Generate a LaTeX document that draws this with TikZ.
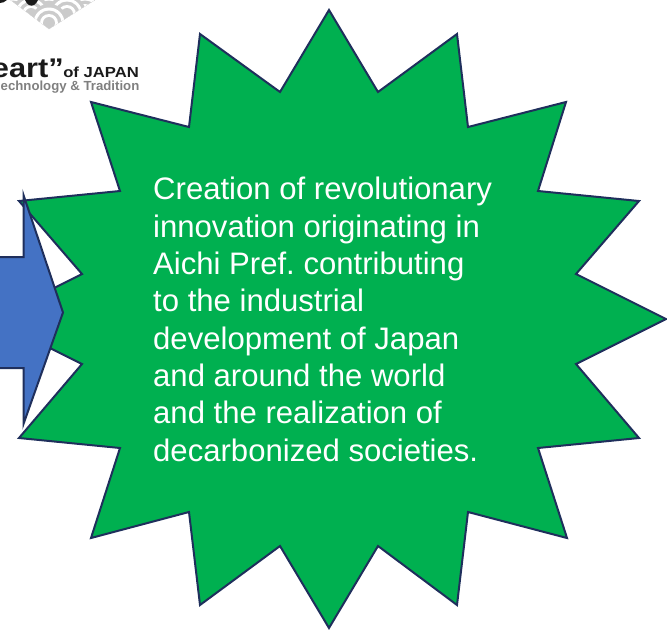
\documentclass[tikz,border=0pt]{standalone}
\usepackage{fontspec}
\setmainfont{Liberation Sans}
\newfontfamily\logowide[FakeStretch=1.14]{Liberation Sans}
\definecolor{stargreen}{HTML}{00B050}
\definecolor{navyline}{HTML}{1F2F5C}
\definecolor{arrowblue}{HTML}{4472C4}
\definecolor{scalegray}{HTML}{CBCBCB}
\definecolor{logogray}{HTML}{7F7F7F}
\definecolor{logoblack}{HTML}{1A1A1A}
\tikzset{
  starshape/.style={fill=stargreen,draw=navyline,line width=2pt,line join=miter,miter limit=20},
  arrowshape/.style={fill=arrowblue,draw=navyline,line width=2pt,line join=miter,miter limit=20},
  startext/.style={text=white,align=left,inner sep=0pt,anchor=north west,font=\fontsize{31.1pt}{37.35pt}\selectfont\frenchspacing},
  logobig/.style={inner sep=0pt,anchor=base east,text=logoblack,font=\logowide\bfseries\fontsize{27pt}{27pt}\selectfont},
  logomid/.style={inner sep=0pt,anchor=base east,text=logoblack,font=\logowide\bfseries\fontsize{14.6pt}{15pt}\selectfont},
  logosub/.style={inner sep=0pt,anchor=base east,text=logogray,font=\bfseries\fontsize{13.2pt}{15pt}\selectfont}
}
\newcommand{\wavescale}[2]{%
  \fill[scalegray] (#1,#2) circle[radius=19pt];
  \fill[white] (#1,#2) circle[radius=15.5pt];
  \fill[scalegray] (#1,#2) circle[radius=12.5pt];
  \fill[white] (#1,#2) circle[radius=9pt];
  \fill[scalegray] (#1,#2) circle[radius=6pt];
}
\begin{document}
\begin{tikzpicture}[x=1pt,y=-1pt]
\useasboundingbox (0,0) rectangle (667,630);
\begin{scope}
  \clip (0,0) rectangle (667,630);
  % logo
  \begin{scope}
    \clip (49,29) -- (98,-2) -- (8,-2) -- cycle;
    \foreach \px in {13,49,85}{\wavescale{\px}{-5}}
    \foreach \px in {-5,31,67,103}{\wavescale{\px}{4}}
    \foreach \px in {13,49,85}{\wavescale{\px}{13}}
    \foreach \px in {31,67}{\wavescale{\px}{14}}
    \wavescale{49}{23}
  \end{scope}
  \fill[logoblack] (25,0) .. controls (27,5) and (31,7) .. (34,5) .. controls (36,4) and (37,2) .. (38,0) -- cycle;
  \fill[logoblack] (0,0) -- (7,0) .. controls (5,2) and (2,3) .. (0,3) -- cycle;
  \node[logobig] (logoheart) at (64,77.5) {eart”};
  \node[logomid] (logojapan) at (139,77) {of JAPAN};
  \node[logosub] (logotag) at (139.5,90.5) {echnology \& Tradition};
  % star
  \draw[starshape] (329,10) -- (378,92) -- (457,34) -- (468,127) -- (566,102) -- (538,191)
    -- (639,201) -- (576,274) -- (666,319) -- (576,364) -- (639,438) -- (538,448)
    -- (567,538) -- (468,512) -- (457,605) -- (378,546) -- (329,628) -- (280,546)
    -- (200,605) -- (189,512) -- (91,538) -- (120,448) -- (19,438) -- (82,364)
    -- (-8,319) -- (82,274) -- (19,201) -- (120,191) -- (91,102) -- (189,127)
    -- (200,34) -- (280,92) -- cycle;
  % arrow
  \draw[arrowshape] (-10,257) -- (23.5,257) -- (23.5,195) -- (63,312.5) -- (23.5,424) -- (23.5,368) -- (-10,368) -- cycle;
  \node[startext] (claim) at (153,177) {Creation of revolutionary\\innovation originating in\\Aichi Pref. contributing\\to the industrial\\development of Japan\\and around the world\\and the realization of\\decarbonized societies.};
\end{scope}
\end{tikzpicture}
\end{document}
